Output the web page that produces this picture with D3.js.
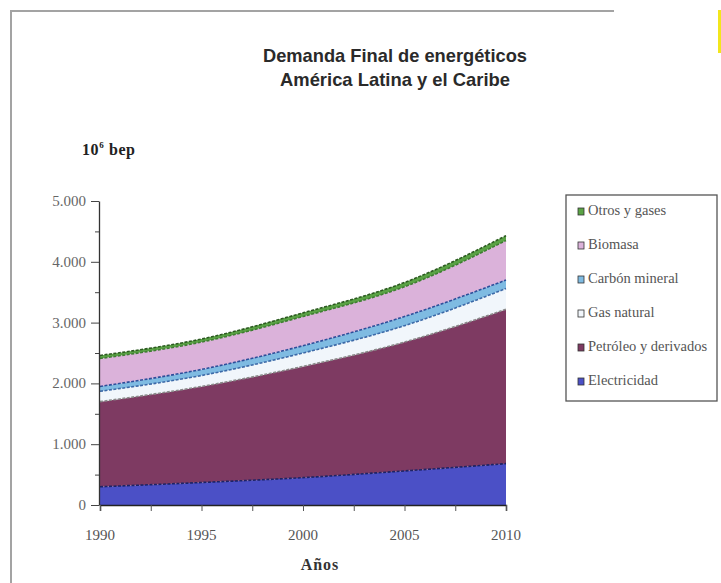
<!DOCTYPE html>
<html>
<head>
<meta charset="utf-8">
<script src="https://cdn.jsdelivr.net/npm/d3@7"></script>
<style>
  body { margin: 0; background: #fff; }
  svg { display: block; }
</style>
</head>
<body>
<div id="chart"></div>
<script>
// years and series (10^6 bep)
const years = [1990, 1995, 2000, 2005, 2010];
const electricidad = [300, 370, 450, 560, 680];
const petroleo = [1400, 1580, 1830, 2120, 2540];
const gasNatural = [170, 180, 220, 270, 340];
const carbon = [80, 100, 120, 150, 140];
const biomasa = [460, 450, 480, 490, 650];
const otros = [50, 50, 60, 70, 80];

const seriesNames = ["Electricidad", "Petróleo y derivados", "Gas natural", "Carbón mineral", "Biomasa", "Otros y gases"];
const yTicks = [0, 1000, 2000, 3000, 4000, 5000];
const xTicks = [1990, 1995, 2000, 2005, 2010];

const colorpel = {
  "Electricidad": { fill: "#4b50c6", line: "#1d2266" },
  "Petróleo y derivados": { fill: "#7e3a62", line: "#8a8a8a" },
  "Gas natural": { fill: "#f1f6fb", line: "#3d6aa8" },
  "Carbón mineral": { fill: "#7fbbe2", line: "#2e4f9a" },
  "Biomasa": { fill: "#dbb2da", line: "#3f7d32" },
  "Otros y gases": { fill: "#5aa345", line: "#2d5a22" }
}

let width = 721, height = 583;

const rows = years.map((y, i) => ({
  year: y,
  "Electricidad": electricidad[i],
  "Petróleo y derivados": petroleo[i],
  "Gas natural": gasNatural[i],
  "Carbón mineral": carbon[i],
  "Biomasa": biomasa[i],
  "Otros y gases": otros[i]
}));

const stacked = d3.stack().keys(seriesNames)(rows);

let svg = d3.select("#chart").append("svg")
  .attr("width", width).attr("height", height);

// scanned page frame
svg.append("path")
  .attr("d", "M11,583 L11,11 L614,11")
  .attr("fill", "none").attr("stroke", "#a3a3a3").attr("stroke-width", 2);
svg.append("rect").attr("x", 718).attr("y", 10).attr("width", 3).attr("height", 43).attr("fill", "#f2e61c");

let x = d3.scaleLinear().domain([1990, 2010]).range([100, 506]);
let y = d3.scaleLinear().domain([0, 5000]).range([505, 201]);

// title
const title = svg.append("g").attr("font-family", "'Liberation Sans Narrow', 'Arial Narrow', 'Liberation Sans', Arial, sans-serif")
  .attr("font-weight", "bold").attr("fill", "#2a2a2a").attr("text-anchor", "middle");
title.append("text").attr("x", 395).attr("y", 62).attr("font-size", 19)
  .attr("textLength", 264).attr("lengthAdjust", "spacingAndGlyphs")
  .text("Demanda Final de energéticos");
title.append("text").attr("x", 395).attr("y", 86).attr("font-size", 19)
  .attr("textLength", 230).attr("lengthAdjust", "spacingAndGlyphs")
  .text("América Latina y el Caribe");

// unit label
const unit = svg.append("text").attr("x", 82).attr("y", 155)
  .attr("font-family", "'Liberation Serif', 'Times New Roman', serif")
  .attr("font-weight", "bold").attr("font-size", 16).attr("letter-spacing", 0.6).attr("fill", "#222");
unit.append("tspan").text("10");
unit.append("tspan").attr("dy", -7).attr("font-size", 9).text("6");
unit.append("tspan").attr("dy", 7).text(" bep");

// areas
const area = d3.area()
  .x(d => x(d.data.year))
  .y0(d => y(d[0]))
  .y1(d => y(d[1]))
  .curve(d3.curveMonotoneX);
const topLine = d3.line()
  .x(d => x(d.data.year))
  .y(d => y(d[1]))
  .curve(d3.curveMonotoneX);

let g_area = svg.append("g");
g_area.selectAll("path.area").data(stacked).enter()
  .append("path").attr("class", "area")
  .attr("d", area)
  .attr("fill", d => colorpel[d.key].fill);
g_area.selectAll("path.edge").data(stacked).enter()
  .append("path").attr("class", "edge")
  .attr("d", topLine)
  .attr("fill", "none")
  .attr("stroke", d => colorpel[d.key].line)
  .attr("stroke-width", 1.6)
  .attr("stroke-dasharray", "3,1.5");

// axes
const font = "'Liberation Serif', 'Times New Roman', serif";
let yAxis = d3.axisLeft(y)
  .tickValues(d3.range(0, 5001, 500))
  .tickSize(0)
  .tickFormat("");
let gy = svg.append("g").attr("transform", "translate(99,0)").call(yAxis);
gy.select(".domain").attr("stroke", "#333").attr("stroke-width", 1.3);
gy.selectAll(".tick line").attr("x2", d => d % 1000 === 0 ? -8 : -4).attr("stroke", "#444");
svg.append("g").selectAll("text").data(yTicks).enter().append("text")
  .attr("x", 86).attr("y", d => y(d) + 5)
  .attr("text-anchor", "end")
  .attr("font-family", font).attr("font-size", 15).attr("fill", "#666")
  .text(d => d3.format(",")(d).replace(",", "."));

let xAxis = d3.axisBottom(x)
  .tickValues(d3.range(1990, 2010.1, 2.5))
  .tickSize(6)
  .tickFormat("");
let gx = svg.append("g").attr("transform", "translate(0,505)").call(xAxis);
gx.select(".domain").attr("stroke", "#222").attr("stroke-width", 1.5);
gx.selectAll(".tick line").attr("stroke", "#555");
svg.append("g").selectAll("text").data(xTicks).enter().append("text")
  .attr("x", d => x(d)).attr("y", 540)
  .attr("text-anchor", "middle")
  .attr("font-family", font).attr("font-size", 15).attr("fill", "#555")
  .text(d => d);

svg.append("text").attr("x", 320).attr("y", 570).attr("text-anchor", "middle")
  .attr("font-family", font).attr("font-weight", "bold").attr("font-size", 16)
  .attr("letter-spacing", 1).attr("fill", "#333").text("Años");

// legend
let legend = svg.append("g");
legend.append("rect").attr("x", 566).attr("y", 195).attr("width", 151).attr("height", 206)
  .attr("fill", "#fff").attr("stroke", "#555").attr("stroke-width", 1.3);
const legendOrder = seriesNames.slice().reverse();
let items = legend.selectAll("g.item").data(legendOrder).enter()
  .append("g").attr("class", "item")
  .attr("transform", (d, i) => `translate(578,${214 + i * 34})`);
items.append("rect").attr("x", 0).attr("y", -6).attr("width", 6).attr("height", 7)
  .attr("fill", d => colorpel[d].fill).attr("stroke", "#333").attr("stroke-width", 0.8);
items.append("text").attr("x", 10).attr("y", 1)
  .attr("font-family", font).attr("font-size", 14.5).attr("fill", "#555")
  .text(d => d);
</script>
</body>
</html>
